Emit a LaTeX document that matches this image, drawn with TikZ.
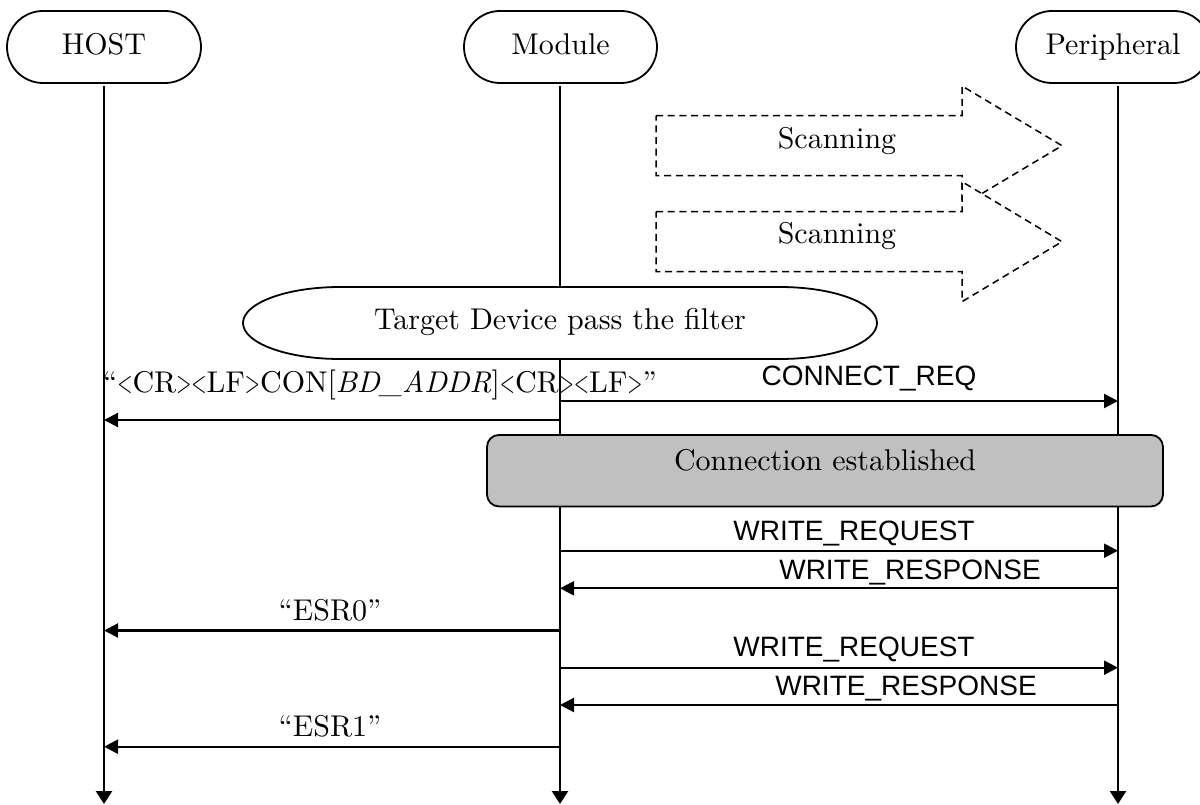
\documentclass[tikz,border=0pt]{standalone}
\usepackage{fontspec}
\usepackage{graphicx}
\setmainfont{lmroman10-regular.otf}[ItalicFont=lmroman10-italic.otf, BoldFont=lmroman10-bold.otf]
\newfontfamily\arialfont{Liberation Sans}
\usetikzlibrary{arrows.meta}
\definecolor{boxgray}{RGB}{192,192,192}
\newcommand\myLT{\scalebox{0.65}[1]{<}}
\newcommand\myGT{\scalebox{0.65}[1]{>}}
\begin{document}
\begin{tikzpicture}[x=1pt,y=-1pt,
  every node/.style={inner sep=0pt, outer sep=0pt},
  serif/.style={font=\fontsize{30}{35}\selectfont},
  sans/.style={font=\arialfont\fontsize{28}{33}\selectfont},
  actor/.style={draw, line width=1.8pt, rounded corners=36pt, minimum height=72pt,
    text height=21pt, text depth=6pt, serif},
  life/.style={line width=2.6pt, -{Triangle[length=13pt,width=16pt]}},
  msg/.style={line width=2.2pt, -{Triangle[length=14pt,width=14pt]}},
  scan/.style={draw, dash pattern=on 7pt off 4.7pt, line width=1.5pt, fill=white},
  lbl/.style={anchor=base},
  statebox/.style={draw, fill=boxgray, rounded corners=12pt, line width=1.8pt}
]
\clip (0,0) rectangle (1200,805);
\useasboundingbox (0,0) rectangle (1200,805);

% actors
\node[actor, minimum width=194pt] (host) at (104,47) {HOST};
\node[actor, minimum width=193pt] (module) at (560.5,47) {Module};
\node[actor, minimum width=194pt] (periph) at (1113,47) {Peripheral};

% lifelines
\coordinate (HL) at (104,86);
\coordinate (ML) at (560,86);
\coordinate (PL) at (1118,86);
\coordinate (HE) at (104,804);
\coordinate (ME) at (560,804);
\coordinate (PE) at (1118,804);
\draw[life] (HL) -- (HE);
\draw[life] (ML) -- (ME);
\draw[life] (PL) -- (PE);

% scanning arrows
\draw[scan] (656,115.7) -- (962,115.7) -- (962,86) -- (1062,145.7) -- (962,205.4)
  -- (962,175.7) -- (656,175.7) -- cycle;
\node[serif, lbl] (scan1) at (837,148.3) {Scanning};
\draw[scan] (656,211.7) -- (962,211.7) -- (962,181.7) -- (1062,241.7) -- (962,301.7)
  -- (962,271.7) -- (656,271.7) -- cycle;
\node[serif, lbl] (scan2) at (837,243.3) {Scanning};

% filter
\draw[line width=1.8pt, fill=white] (340,287) -- (780,287)
  arc[start angle=90, end angle=-90, x radius=97pt, y radius=36pt]
  -- (340,359)
  arc[start angle=270, end angle=90, x radius=97pt, y radius=36pt] -- cycle;
\node[serif, lbl] (filter) at (560,330) {Target Device pass the filter};

% connect
\draw[msg] (ML |- 0,401) -- (PL |- 0,401);
\node[sans, lbl] (lconnreq) at (869,385) {CONNECT\_REQ};
\draw[msg] (ML |- 0,420) -- (HL |- 0,420);
\node[serif, lbl] (lcon) at (380,392) {“\myLT CR\myGT\myLT LF\myGT CON[\textit{BD\_ADDR}]\myLT CR\myGT\myLT LF\myGT”};

% connection established
\node[statebox, minimum width=676pt, minimum height=71.5pt] (conn) at (825,470.7) {};
\node[serif, lbl] (conntext) at (825,470) {Connection established};

% writes
\draw[msg] (ML |- 0,550.7) -- (PL |- 0,550.7);
\node[sans, lbl] (lreq1) at (854,540) {WRITE\_REQUEST};
\draw[msg] (PL |- 0,588.3) -- (ML |- 0,588.3);
\node[sans, lbl] (lresp1) at (910,579) {WRITE\_RESPONSE};
\draw[msg] (ML |- 0,630.5) -- (HL |- 0,630.5);
\node[serif, lbl] (lesr0) at (330,620) {“ESR0”};
\draw[msg] (ML |- 0,667.7) -- (PL |- 0,667.7);
\node[sans, lbl] (lreq2) at (854,656.7) {WRITE\_REQUEST};
\draw[msg] (PL |- 0,705) -- (ML |- 0,705);
\node[sans, lbl] (lresp2) at (906,695) {WRITE\_RESPONSE};
\draw[msg] (ML |- 0,746.7) -- (HL |- 0,746.7);
\node[serif, lbl] (lesr1) at (330,736) {“ESR1”};
\end{tikzpicture}
\end{document}
